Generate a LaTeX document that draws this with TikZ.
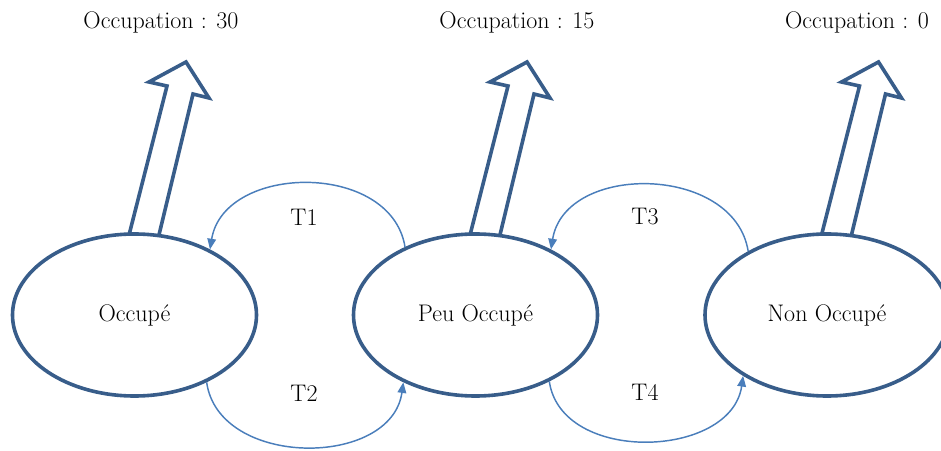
\documentclass[tikz,border=0pt]{standalone}
\usetikzlibrary{shapes.geometric,arrows.meta,backgrounds}
\definecolor{stateblue}{RGB}{56,93,138}
\definecolor{transblue}{RGB}{74,126,187}
\begin{document}
\begin{tikzpicture}[x=0.75pt, y=0.75pt, font=\fontsize{18}{22}\selectfont,
   state_style/.style={ellipse, draw=stateblue, fill=white, line width=2.7pt, minimum width=183pt, minimum height=121.5pt, inner sep=0pt},
   big_arrow/.style={draw=stateblue, fill=white, line width=2.7pt},
   trans_style/.style={draw=transblue, line width=1.1pt, -{Triangle[length=8pt,width=6.5pt]}}]
	  \useasboundingbox (0,0) rectangle (941,450);
	  \node [state_style] (occ) at (134.5,135) {Occupé};
	  \node [state_style] (peu) at (475.5,135) {Peu Occupé};
	  \node [state_style] (non) at (827,135)   {Non Occupé};

	  \node (occLab) at (161,428) {Occupation : 30};
	  \node (peuLab) at (517,428) {Occupation : 15};
	  \node (nonLab) at (857,428) {Occupation : 0};

	  % hollow arrows above the states
	  \begin{scope}[on background layer]
	    \foreach \s in {occ,peu,non}
	      \draw [big_arrow, shift={(\s.center)}] (-6.5,76) -- (32.5,229) -- (14.5,233) -- (51.5,253) -- (74.5,217) -- (58.5,221) -- (23.5,76);
	  \end{scope}

	  \foreach \from/\to/\dx/\dy/\lab/\lx/\ly in {peu.136/occ.41/-14/86/T1/304/233, occ.-43/peu.-137/12/-86/T2/304/57, non.141/peu.41/-14/87/T3/645/233, peu.-42/non.216/12/-83/T4/645/58}
	    {\draw [trans_style] (\from) .. controls +(\dx,\dy) and +(-\dx,\dy) .. (\to);
	     \node (\lab) at (\lx,\ly) {\lab};}

	\end{tikzpicture}
\end{document}
